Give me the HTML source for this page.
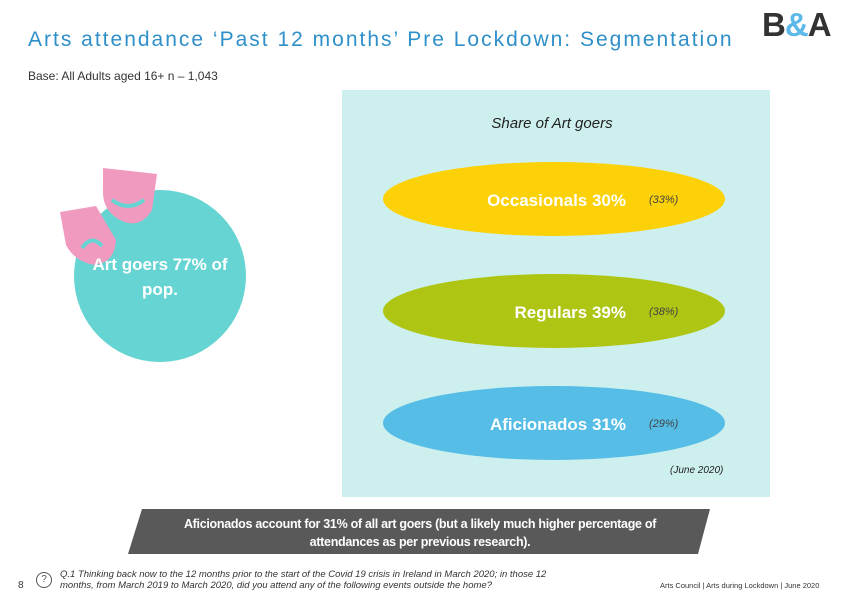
<!DOCTYPE html>
<html><head><meta charset="utf-8"><style>
body{margin:0;width:842px;height:596px;background:#fff;overflow:hidden;position:relative;font-family:"Liberation Sans",sans-serif}
.a{position:absolute}
</style></head><body>
<div class="a" style="left:28px;top:28px;font-size:21px;color:#2e8fc9;letter-spacing:2px">Arts attendance ‘Past 12 months’ Pre Lockdown: Segmentation</div>
<div class="a" style="left:762px;top:6px;font-size:33px;font-weight:bold;color:#333;letter-spacing:-1px">B<span style="color:#5bb8e8">&amp;</span>A</div>
<div class="a" style="left:28px;top:69px;font-size:12px;color:#333">Base: All Adults aged 16+ n – 1,043</div>
<div class="a" style="left:342px;top:90px;width:428px;height:407px;background:#cdf0ee"></div>
<div class="a" style="left:342px;top:115px;width:420px;text-align:center;font-size:15px;font-style:italic;color:#222">Share of Art goers</div>
<svg class="a" style="left:0;top:0" width="842" height="596">
<circle cx="160" cy="276" r="86" fill="#66d4d2"/>
<g fill="#f09ac0">
<path d="M103 168 L157 174 L152 210 Q140 230 120 220 Q102 210 103 190 Z"/>
<path d="M60 212 L96 206 L116 240 Q115 262 95 265 Q75 262 66 245 Z"/>
<path d="M112 200 Q128 212 144 200" stroke="#66d4d2" stroke-width="4" fill="none"/>
<path d="M82 248 Q92 234 102 246" stroke="#66d4d2" stroke-width="4" fill="none"/>
</g>
<g id="ell"></g>
<text x="160" y="270" text-anchor="middle" fill="#fff" font-size="17" font-weight="bold" font-family="Liberation Sans">Art goers 77% of</text>
<text x="160" y="295" text-anchor="middle" fill="#fff" font-size="17" font-weight="bold" font-family="Liberation Sans">pop.</text>
<polygon points="142,509 710,509 698,554 128,554" fill="#595959"/>
</svg>
<div class="a" style="left:160px;top:515px;width:520px;text-align:center;font-size:12.5px;line-height:18px;color:#fff;font-weight:bold;letter-spacing:-0.3px">Aficionados account for 31% of all art goers (but a likely much higher percentage of attendances as per previous research).</div>
<div class="a" style="left:670px;top:465px;font-size:10px;font-style:italic;color:#222">(June 2020)</div>
<div class="a" style="left:18px;top:580px;font-size:10px;color:#333">8</div>
<div class="a" style="left:36px;top:572px;width:14px;height:14px;border:1px solid #555;border-radius:50%;font-size:10px;text-align:center;line-height:14px;color:#555">?</div>
<div class="a" style="left:60px;top:569px;font-size:9.5px;font-style:italic;color:#333;line-height:11px;width:510px">Q.1 Thinking back now to the 12 months prior to the start of the Covid 19 crisis in Ireland in March 2020; in those 12 months, from March 2019 to March 2020, did you attend any of the following events outside the home?</div>
<div class="a" style="left:660px;top:581px;font-size:7.5px;color:#333">Arts Council | Arts during Lockdown | June 2020</div>
<script>
const segments=["Occasionals","Regulars","Aficionados"];
const shares=[30,39,31];
const previous=[33,38,29];
const colors=["#fcd107","#aec513","#55bde6"];
const g=document.getElementById('ell');
const ns="http://www.w3.org/2000/svg";
function yPos(i){return 199+i*112;}
segments.forEach((s,i)=>{
 const e=document.createElementNS(ns,'ellipse');
 e.setAttribute('cx',554);e.setAttribute('cy',yPos(i));e.setAttribute('rx',171);e.setAttribute('ry',37);e.setAttribute('fill',colors[i]);
 
 
 g.appendChild(e);
 const t=document.createElementNS(ns,'text');
 t.setAttribute('x',626);t.setAttribute('y',yPos(i)+7);t.setAttribute('text-anchor','end');t.setAttribute('fill','#fff');t.setAttribute('font-size','17');t.setAttribute('font-weight','bold');t.setAttribute('font-family','Liberation Sans');
 t.textContent=s+' '+shares[i]+'%';
 
 
 g.appendChild(t);
 const p=document.createElementNS(ns,'text');
 p.setAttribute('x',649);p.setAttribute('y',yPos(i)+4);p.setAttribute('fill','#444');p.setAttribute('font-size','11');p.setAttribute('font-style','italic');p.setAttribute('font-family','Liberation Sans');
 p.textContent='('+previous[i]+'%)';
 
 
 g.appendChild(p);
});
</script>
</body></html>
